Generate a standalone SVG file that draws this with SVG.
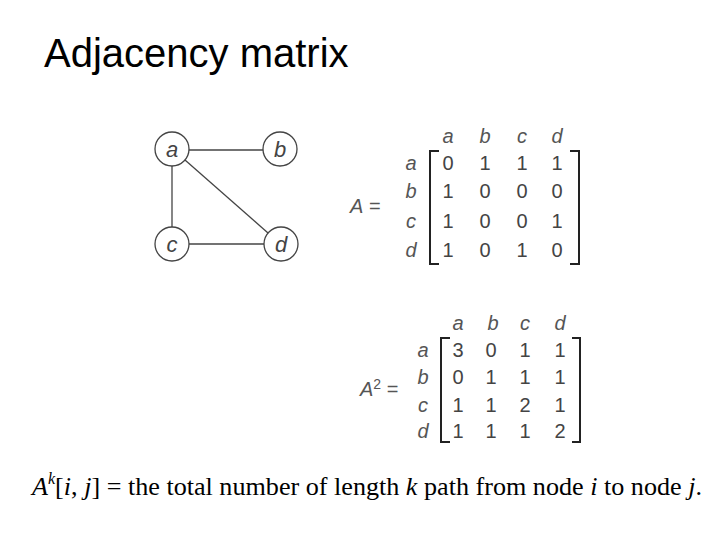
<svg xmlns="http://www.w3.org/2000/svg" width="720" height="540" viewBox="0 0 720 540">
<style>
.title{font-family:"Liberation Sans",Arial,sans-serif;font-size:40px;fill:#000}
.node circle{fill:#fff;stroke:#444;stroke-width:1.3}
.nl{font-family:"Liberation Sans",Arial,sans-serif;font-style:italic;font-size:22px;fill:#444;text-anchor:middle}
.edge{stroke:#444;stroke-width:1.3;fill:none}
.lab{font-family:"Liberation Sans",Arial,sans-serif;font-style:italic;font-size:20px;fill:#555;text-anchor:middle}
.num{font-family:"Liberation Sans",Arial,sans-serif;font-size:20px;fill:#444;text-anchor:middle}
.br{stroke:#222;stroke-width:2;fill:none}
.eq{font-family:"Liberation Sans",Arial,sans-serif;font-size:20px;fill:#555}
.f{font-family:"Liberation Serif","Times New Roman",serif;font-size:26px;fill:#000}
</style>
<rect width="720" height="540" fill="#fff"/>
<text class="title" x="44" y="67">Adjacency matrix</text>
<g id="connectors">
<line class="edge" x1="189" y1="150" x2="263" y2="150"/>
<line class="edge" x1="172" y1="166" x2="172" y2="227"/>
<line class="edge" x1="185" y1="160" x2="268" y2="233"/>
<line class="edge" x1="189" y1="244" x2="264" y2="244"/>
</g>
<g id="node-a" class="node"><circle cx="172" cy="149" r="17"/><text class="nl" x="172" y="157">a</text></g>
<g id="node-b" class="node"><circle cx="280" cy="149" r="17"/><text class="nl" x="280" y="157">b</text></g>
<g id="node-c" class="node"><circle cx="172" cy="244" r="17"/><text class="nl" x="172" y="252">c</text></g>
<g id="node-d" class="node"><circle cx="281" cy="244" r="17"/><text class="nl" x="281" y="252">d</text></g>

<g id="matrix-A">
<text class="eq" x="350" y="213"><tspan font-style="italic">A</tspan> =</text>
<text class="lab" x="448" y="143">a</text><text class="lab" x="485" y="143">b</text><text class="lab" x="522" y="143">c</text><text class="lab" x="557" y="143">d</text>
<text class="lab" x="411" y="170">a</text><text class="lab" x="411" y="198">b</text><text class="lab" x="411" y="228">c</text><text class="lab" x="411" y="257">d</text>
<g class="num">
<text x="448" y="170">0</text><text x="485" y="170">1</text><text x="522" y="170">1</text><text x="557" y="170">1</text>
<text x="448" y="198">1</text><text x="485" y="198">0</text><text x="522" y="198">0</text><text x="557" y="198">0</text>
<text x="448" y="228">1</text><text x="485" y="228">0</text><text x="522" y="228">0</text><text x="557" y="228">1</text>
<text x="448" y="257">1</text><text x="485" y="257">0</text><text x="522" y="257">1</text><text x="557" y="257">0</text>
</g>
<path class="br" d="M439,151 H430 V264 H439"/>
<path class="br" d="M570,151 H579 V264 H570"/>
</g>

<g id="matrix-A2">
<text class="eq" x="360" y="396"><tspan font-style="italic">A</tspan><tspan font-size="14" dy="-7">2</tspan><tspan dy="7"> =</tspan></text>
<text class="lab" x="458" y="330">a</text><text class="lab" x="493" y="330">b</text><text class="lab" x="525" y="330">c</text><text class="lab" x="560" y="330">d</text>
<text class="lab" x="423" y="357">a</text><text class="lab" x="423" y="384">b</text><text class="lab" x="423" y="412">c</text><text class="lab" x="423" y="438">d</text>
<g class="num">
<text x="458" y="357">3</text><text x="491" y="357">0</text><text x="525" y="357">1</text><text x="560" y="357">1</text>
<text x="458" y="384">0</text><text x="491" y="384">1</text><text x="525" y="384">1</text><text x="560" y="384">1</text>
<text x="458" y="412">1</text><text x="491" y="412">1</text><text x="525" y="412">2</text><text x="560" y="412">1</text>
<text x="458" y="438">1</text><text x="491" y="438">1</text><text x="525" y="438">1</text><text x="560" y="438">2</text>
</g>
<path class="br" d="M450,338 H441 V442 H450"/>
<path class="br" d="M572,338 H580 V442 H572"/>
</g>

<text class="f" x="32" y="495" textLength="670" lengthAdjust="spacingAndGlyphs"><tspan font-style="italic">A</tspan><tspan font-style="italic" font-size="16" dy="-11">k</tspan><tspan dy="11">[</tspan><tspan font-style="italic">i</tspan>, <tspan font-style="italic">j</tspan>] = the total number of length <tspan font-style="italic">k </tspan>path from node <tspan font-style="italic">i </tspan>to node <tspan font-style="italic">j</tspan>.</text>
</svg>
